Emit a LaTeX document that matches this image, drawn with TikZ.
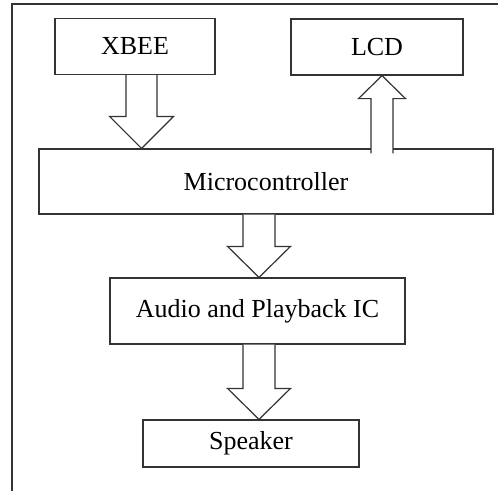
\documentclass[tikz,border=0pt]{standalone}
\usepackage{fontspec}
\setmainfont{Liberation Serif}
\usetikzlibrary{calc}

% hollow block arrow: x, half shaft, half head, head length (+ down / - up), from, to
\newcommand{\fatarrow}[6]{%
	\draw[fatarrow] let \p1=(#5), \p2=(#6) in
		({#1pt-#2pt},\y1) -- ({#1pt-#2pt},{\y2+#4pt}) -- ({#1pt-#3pt},{\y2+#4pt})
		-- (#1pt,\y2) -- ({#1pt+#3pt},{\y2+#4pt}) -- ({#1pt+#2pt},{\y2+#4pt}) -- ({#1pt+#2pt},\y1);
}

\begin{document}
\begin{tikzpicture}[x=1pt, y=-1pt,
	every node/.style={font=\fontsize{26}{30}\selectfont},
	block/.style={draw=black!80, line width=1.2pt, rectangle, inner sep=0pt},
	fatarrow/.style={draw=black!80, line width=1.2pt, fill=white, line join=miter}]
	\useasboundingbox (0,0) rectangle (498,490);
	\draw[black!80, line width=1.2pt] (12,510) -- (12,4) -- (520,4);

	\node[block, minimum width=160pt, minimum height=56pt] (xbee) at (135,46.5) {XBEE};
	\node[block, minimum width=172pt, minimum height=56pt] (lcd) at (377,47) {LCD};
	\node[block, minimum width=454pt, minimum height=65pt] (micro) at (266,181.5) {Microcontroller};
	\node[block, minimum width=295pt, minimum height=66pt] (audio) at (257.5,311) {Audio and Playback IC};
	\node[block, minimum width=216pt, minimum height=47pt] (speaker) at (251,443.5) {Speaker};

	\fatarrow{141.5}{15.5}{32}{32}{xbee.south}{micro.north}
	\fatarrow{382}{11}{23.5}{-23}{[yshift=-5pt]micro.north}{lcd.south}
	\fatarrow{259}{16}{31.5}{31}{micro.south}{audio.north}
	\fatarrow{259}{16}{31.5}{31}{audio.south}{speaker.north}
\end{tikzpicture}
\end{document}
